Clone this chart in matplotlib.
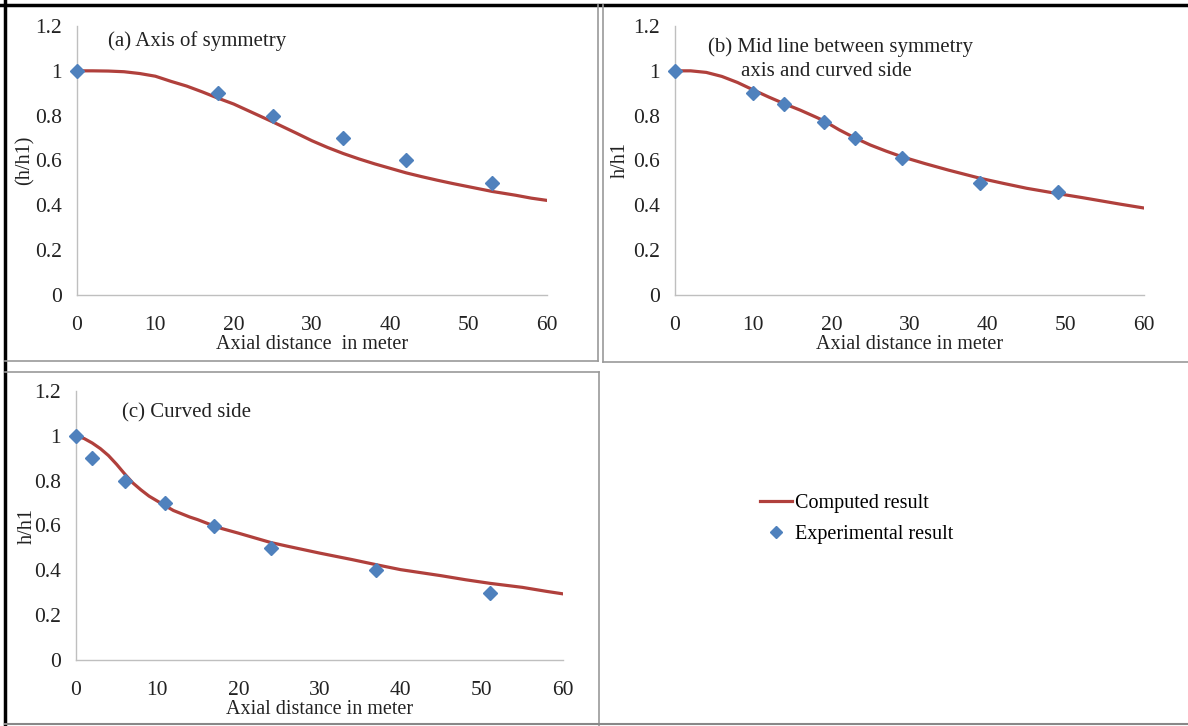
import matplotlib
matplotlib.use("Agg")
import matplotlib.pyplot as plt
from matplotlib.lines import Line2D

plt.rcParams["font.family"] = ["Liberation Serif", "DejaVu Serif"]
plt.rcParams["font.size"] = 14

W, H = 1188, 726

# (a) axis of symmetry
a_calc_x = [0, 2, 4, 6, 8, 10, 12, 14, 16, 18, 20, 22, 25, 28, 30, 32, 34, 36, 38, 40,
            42, 44, 46, 48, 50, 53, 56, 58, 60]
a_calc_y = [1.0, 1.0, 0.999, 0.996, 0.988, 0.976, 0.953, 0.932, 0.906, 0.878, 0.852, 0.82,
            0.772, 0.722, 0.688, 0.658, 0.631, 0.607, 0.585, 0.565, 0.545, 0.528, 0.512,
            0.497, 0.483, 0.462, 0.445, 0.432, 0.422]
a_exp_x = [0, 18, 25, 34, 42, 53]
a_exp_y = [1.0, 0.9, 0.8, 0.7, 0.6, 0.5]

# (b) mid line between symmetry axis and curved side
b_calc_x = [0, 2, 4, 6, 8, 10, 12, 14, 16, 18, 19, 21, 23, 25, 27, 29, 32, 35, 39, 42,
            45, 49, 52, 55, 57, 60]
b_calc_y = [1.0, 1.0, 0.993, 0.975, 0.948, 0.915, 0.883, 0.853, 0.825, 0.794, 0.778,
            0.737, 0.701, 0.669, 0.642, 0.617, 0.586, 0.557, 0.521, 0.498, 0.476, 0.452,
            0.435, 0.417, 0.405, 0.388]
b_exp_x = [0, 10, 14, 19, 23, 29, 39, 49]
b_exp_y = [1.0, 0.9, 0.85, 0.77, 0.7, 0.61, 0.5, 0.46]

# (c) curved side
c_calc_x = [0, 1, 2, 3, 4, 5, 6, 7, 8, 9, 11, 12, 14, 15, 17, 18, 20, 22, 24, 26, 30,
            34, 37, 40, 45, 48, 51, 55, 58, 60]
c_calc_y = [1.0, 0.988, 0.968, 0.943, 0.912, 0.873, 0.83, 0.79, 0.759, 0.731, 0.688,
            0.667, 0.638, 0.626, 0.598, 0.586, 0.566, 0.545, 0.524, 0.508, 0.477, 0.448,
            0.425, 0.403, 0.376, 0.358, 0.342, 0.324, 0.306, 0.295]
c_exp_x = [0, 2, 6, 11, 17, 24, 37, 51]
c_exp_y = [1.0, 0.9, 0.8, 0.7, 0.6, 0.5, 0.4, 0.3]

x_ticks = [0, 10, 20, 30, 40, 50, 60]
y_ticks = [0, 0.2, 0.4, 0.6, 0.8, 1, 1.2]
y_tick_labels = ["0", "0.2", "0.4", "0.6", "0.8", "1", "1.2"]

line_color = "#B0403C"
marker_color = "#4F81BD"
spine_color = "#BFBFBF"
text_color = "#222222"


def fx(px):
    return px / W


def fy(py):
    return 1 - py / H


def make_axes(fig, left, right, top, bottom):
    return fig.add_axes([fx(left), fy(bottom), fx(right - left), (bottom - top) / H])


def style_panel(ax, xlabel, ylabel, ylabel_pad):
    ax.set_xlim(0, 60)
    ax.set_ylim(0, 1.2)
    ax.set_xticks(x_ticks)
    ax.set_yticks(y_ticks)
    ax.set_yticklabels(y_tick_labels)
    ax.tick_params(length=0, labelsize=15.5, colors=text_color)
    ax.tick_params(axis="x", pad=15)
    ax.tick_params(axis="y", pad=11)
    for s in ["top", "right"]:
        ax.spines[s].set_visible(False)
    for s in ["left", "bottom"]:
        ax.spines[s].set_color(spine_color)
        ax.spines[s].set_linewidth(1.0)
    ax.set_xlabel(xlabel, fontsize=14.5, labelpad=0, color=text_color)
    ax.set_ylabel(ylabel, fontsize=14.5, labelpad=ylabel_pad, color=text_color)
    ax.patch.set_alpha(0)


def plot_panel(ax, cx, cy, ex, ey):
    ax.plot(cx, cy, color=line_color, lw=2.3, solid_joinstyle="round", zorder=2)
    ax.plot(ex, ey, ls="none", marker="D", ms=7, color=marker_color, zorder=3,
            clip_on=False)


fig = plt.figure(figsize=(W / 100, H / 100), dpi=100)

ax_a = make_axes(fig, 77, 547, 26, 295)
plot_panel(ax_a, a_calc_x, a_calc_y, a_exp_x, a_exp_y)
style_panel(ax_a, "Axial distance  in meter", "(h/h1)", 0)
fig.text(fx(108), fy(41), "(a) Axis of symmetry", ha="left", va="center",
         fontsize=15, color=text_color)

ax_b = make_axes(fig, 675, 1144, 26, 295)
plot_panel(ax_b, b_calc_x, b_calc_y, b_exp_x, b_exp_y)
style_panel(ax_b, "Axial distance in meter", "h/h1", 2)
fig.text(fx(708), fy(47), "(b) Mid line between symmetry", ha="left", va="center",
         fontsize=15, color=text_color)
fig.text(fx(741), fy(72), "axis and curved side", ha="left", va="center",
         fontsize=15, color=text_color)

ax_c = make_axes(fig, 76, 563, 391, 660)
plot_panel(ax_c, c_calc_x, c_calc_y, c_exp_x, c_exp_y)
style_panel(ax_c, "Axial distance in meter", "h/h1", -2)
fig.text(fx(122), fy(413), "(c) Curved side", ha="left", va="center",
         fontsize=15, color=text_color)

handles = [
    Line2D([], [], color=line_color, lw=2.3),
    Line2D([], [], ls="none", marker="D", ms=6, color=marker_color),
]
fig.legend(handles, ["Computed result", "Experimental result"],
           loc="center left", bbox_to_anchor=(fx(760), fy(519)),
           frameon=False, fontsize=14.5, handlelength=1.6, handletextpad=0.15,
           labelspacing=0.6, borderaxespad=0, borderpad=0)

# panel frames
frame_lines = [
    # (x0, y0, x1, y1, color, lw)
    (0, 5, W, 5, "black", 2.5),
    (5, 0, 5, H, "black", 2.5),
    (598, 5, 598, 361, "#999999", 1.2),
    (5, 361, 598, 361, "#999999", 1.2),
    (603, 5, 603, 362, "#999999", 1.2),
    (603, 362, W, 362, "#999999", 1.2),
    (5, 372, 599, 372, "#999999", 1.2),
    (599, 372, 599, H, "#999999", 1.2),
    (5, 724, W, 724, "#888888", 1.5),
]
for x0, y0, x1, y1, col, lw in frame_lines:
    fig.add_artist(Line2D([fx(x0), fx(x1)], [fy(y0), fy(y1)],
                          transform=fig.transFigure, color=col, lw=lw))

fig.savefig("out.png", dpi=100)
